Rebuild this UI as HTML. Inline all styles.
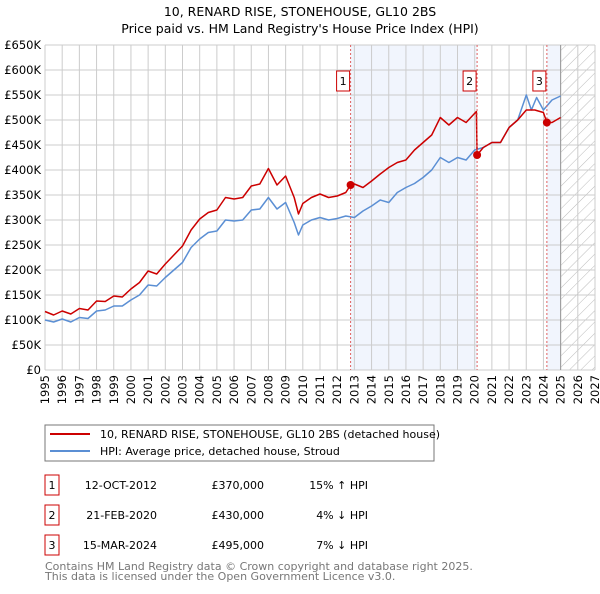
<!DOCTYPE html>
<html><head><meta charset="utf-8"><style>
body{margin:0;background:#fff;font-family:"DejaVu Sans","Liberation Sans",sans-serif}
svg text{font-family:"DejaVu Sans","Liberation Sans",sans-serif}
</style></head><body>
<svg id="chart" width="600" height="590" viewBox="0 0 600 590" xmlns="http://www.w3.org/2000/svg">
<defs><pattern id="hatch" width="8" height="8" patternUnits="userSpaceOnUse" patternTransform="rotate(45)"><line x1="0" y1="0" x2="0" y2="8" stroke="#bbb" stroke-width="1"/></pattern></defs>
<text x="300" y="16" text-anchor="middle" font-size="12.5">10, RENARD RISE, STONEHOUSE, GL10 2BS</text>
<text x="300" y="33" text-anchor="middle" font-size="12.5">Price paid vs. HM Land Registry's House Price Index (HPI)</text>
<g id="bands"></g><g id="grid"></g><g id="axes"></g><g id="lines"></g><g id="marks"></g>
<rect x="45" y="437" width="389" height="36" fill="#fff" stroke="#777" stroke-width="1" transform="translate(0,-12)"/>
<line x1="50" y1="434" x2="90" y2="434" stroke="#cc0000" stroke-width="2"/>
<text x="100" y="438" font-size="11">10, RENARD RISE, STONEHOUSE, GL10 2BS (detached house)</text>
<line x1="50" y1="451" x2="90" y2="451" stroke="#5b8fd4" stroke-width="2"/>
<text x="100" y="455" font-size="11">HPI: Average price, detached house, Stroud</text>
<g id="table" font-size="11"></g>
<text x="45" y="570" font-size="11" fill="#777">Contains HM Land Registry data © Crown copyright and database right 2025.</text>
<text x="45" y="580" font-size="11" fill="#777">This data is licensed under the Open Government Licence v3.0.</text>
</svg>
<script>
const yTicks=[0,50,100,150,200,250,300,350,400,450,500,550,600,650];
const yTickLabels=["£0","£50K","£100K","£150K","£200K","£250K","£300K","£350K","£400K","£450K","£500K","£550K","£600K","£650K"];
const xYears=[1995,1996,1997,1998,1999,2000,2001,2002,2003,2004,2005,2006,2007,2008,2009,2010,2011,2012,2013,2014,2015,2016,2017,2018,2019,2020,2021,2022,2023,2024,2025,2026,2027];
const hpiT=[1995,1995.5,1996,1996.5,1997,1997.5,1998,1998.5,1999,1999.5,2000,2000.5,2001,2001.5,2002,2002.5,2003,2003.5,2004,2004.5,2005,2005.5,2006,2006.5,2007,2007.5,2008,2008.5,2009,2009.5,2009.75,2010,2010.5,2011,2011.5,2012,2012.5,2013,2013.5,2014,2014.5,2015,2015.5,2016,2016.5,2017,2017.5,2018,2018.5,2019,2019.5,2020,2020.5,2021,2021.5,2022,2022.5,2023,2023.3,2023.6,2024,2024.5,2025];
const hpiV=[100,96,102,96,105,103,118,120,128,128,140,150,170,168,185,200,215,245,262,275,278,300,298,300,320,322,345,322,335,295,270,290,300,305,300,303,308,305,318,328,340,335,355,365,373,385,400,425,415,425,420,440,445,455,455,485,500,550,520,545,520,540,548];
const propT=[1995,1995.5,1996,1996.5,1997,1997.5,1998,1998.5,1999,1999.5,2000,2000.5,2001,2001.5,2002,2002.5,2003,2003.5,2004,2004.5,2005,2005.5,2006,2006.5,2007,2007.5,2008,2008.5,2009,2009.5,2009.75,2010,2010.5,2011,2011.5,2012,2012.5,2012.78,2013,2013.5,2014,2014.5,2015,2015.5,2016,2016.5,2017,2017.5,2018,2018.5,2019,2019.5,2020.1,2020.14,2020.5,2021,2021.5,2022,2022.5,2023,2023.5,2024,2024.2,2024.5,2025];
const propV=[117,110,118,112,123,120,138,137,148,146,162,175,198,192,212,230,248,280,302,315,320,345,342,345,368,372,403,370,388,345,312,333,345,352,345,348,355,370,372,365,378,392,405,415,420,440,455,470,505,490,505,495,517,430,445,455,455,485,500,520,520,515,495,495,505];
const saleIds=["1","2","3"];
const saleT=[2012.78,2020.14,2024.2];
const saleV=[370,430,495];
const saleDates=["12-OCT-2012","21-FEB-2020","15-MAR-2024"];
const salePrices=["£370,000","£430,000","£495,000"];
const saleDiffs=["15% ↑ HPI","4% ↓ HPI","7% ↓ HPI"];

const NS="http://www.w3.org/2000/svg";
const X0=45,X1=595,Y0=370,Y1=45;
const xs=t=>X0+(t-1995)/(2027-1995)*(X1-X0);
const ys=v=>Y0-v/650*(Y0-Y1);
function mk(tag,attrs,parent){const e=document.createElementNS(NS,tag);for(const k in attrs)e.setAttribute(k,attrs[k]);document.getElementById(parent).appendChild(e);return e;}

// bands
let b=mk('rect',{x:xs(saleT[0]),y:Y1,width:xs(saleT[1])-xs(saleT[0]),height:Y0-Y1,fill:'#eef3fd',opacity:0.8},'bands');


b=mk('rect',{x:xs(saleT[2]),y:Y1,width:xs(2025)-xs(saleT[2]),height:Y0-Y1,fill:'#eef3fd',opacity:0.8},'bands');


b=mk('rect',{x:xs(2025),y:Y1,width:X1-xs(2025),height:Y0-Y1,fill:'url(#hatch)'},'bands');



yTicks.forEach((v,i)=>{
  const l=mk('line',{x1:X0,x2:X1,y1:ys(v),y2:ys(v),stroke:'#ccc','stroke-width':1},'grid');
  
  
  const t=mk('text',{x:X0-4,y:ys(v)+4,'text-anchor':'end','font-size':11.5},'axes');
  
  
  t.textContent=yTickLabels[i];
});
xYears.forEach(yr=>{
  const l=mk('line',{x1:xs(yr),x2:xs(yr),y1:Y1,y2:Y0,stroke:'#ccc','stroke-width':1},'grid');
  
  
  const t=mk('text',{x:0,y:0,'text-anchor':'end','font-size':11.5,transform:`translate(${xs(yr)+4},${Y0+5}) rotate(-90)`},'axes');
  
  
  t.textContent=yr;
});
let cl=mk('line',{x1:xs(2025),x2:xs(2025),y1:Y1,y2:Y0,stroke:'#999','stroke-width':1},'grid');



saleT.forEach((t,i)=>{
  const l=mk('line',{x1:xs(t),x2:xs(t),y1:Y1,y2:Y0,stroke:'#e06060','stroke-width':1,'stroke-dasharray':'2,2'},'marks');
  
  
});

function path(T,V,color,name){
  const d=T.map((t,i)=>(i?'L':'M')+xs(t).toFixed(1)+','+ys(V[i]).toFixed(1)).join('');
  const p=mk('path',{d:d,fill:'none',stroke:color,'stroke-width':1.5,'stroke-linejoin':'round'},'lines');
  
  
}
path(hpiT,hpiV,'#5b8fd4','hpi-line');
path(propT,propV,'#cc0000','property-line');

saleT.forEach((t,i)=>{
  const c=mk('circle',{cx:xs(t),cy:ys(saleV[i]),r:4,fill:'#cc0000'},'marks');
  
  
  const r=mk('rect',{x:xs(t)-14,y:71,width:13,height:20,fill:'#fff',stroke:'#cc0000'},'marks');
  
  
  const tx=mk('text',{x:xs(t)-7.5,y:85,'text-anchor':'middle','font-size':11},'marks');
  
  
  tx.textContent=saleIds[i];
  const ry=475+i*30;
  const br=mk('rect',{x:45,y:ry,width:14,height:20,fill:'#fff',stroke:'#cc0000'},'table');
  
  
  const cols=[[52,saleIds[i],'middle'],[157,saleDates[i],'end'],[264,salePrices[i],'end'],[368,saleDiffs[i],'end']];
  cols.forEach(c2=>{
    const tt=mk('text',{x:c2[0],y:ry+14,'text-anchor':c2[2],'font-size':11},'table');
    
    
    tt.textContent=c2[1];
  });
});
</script>
</body></html>
